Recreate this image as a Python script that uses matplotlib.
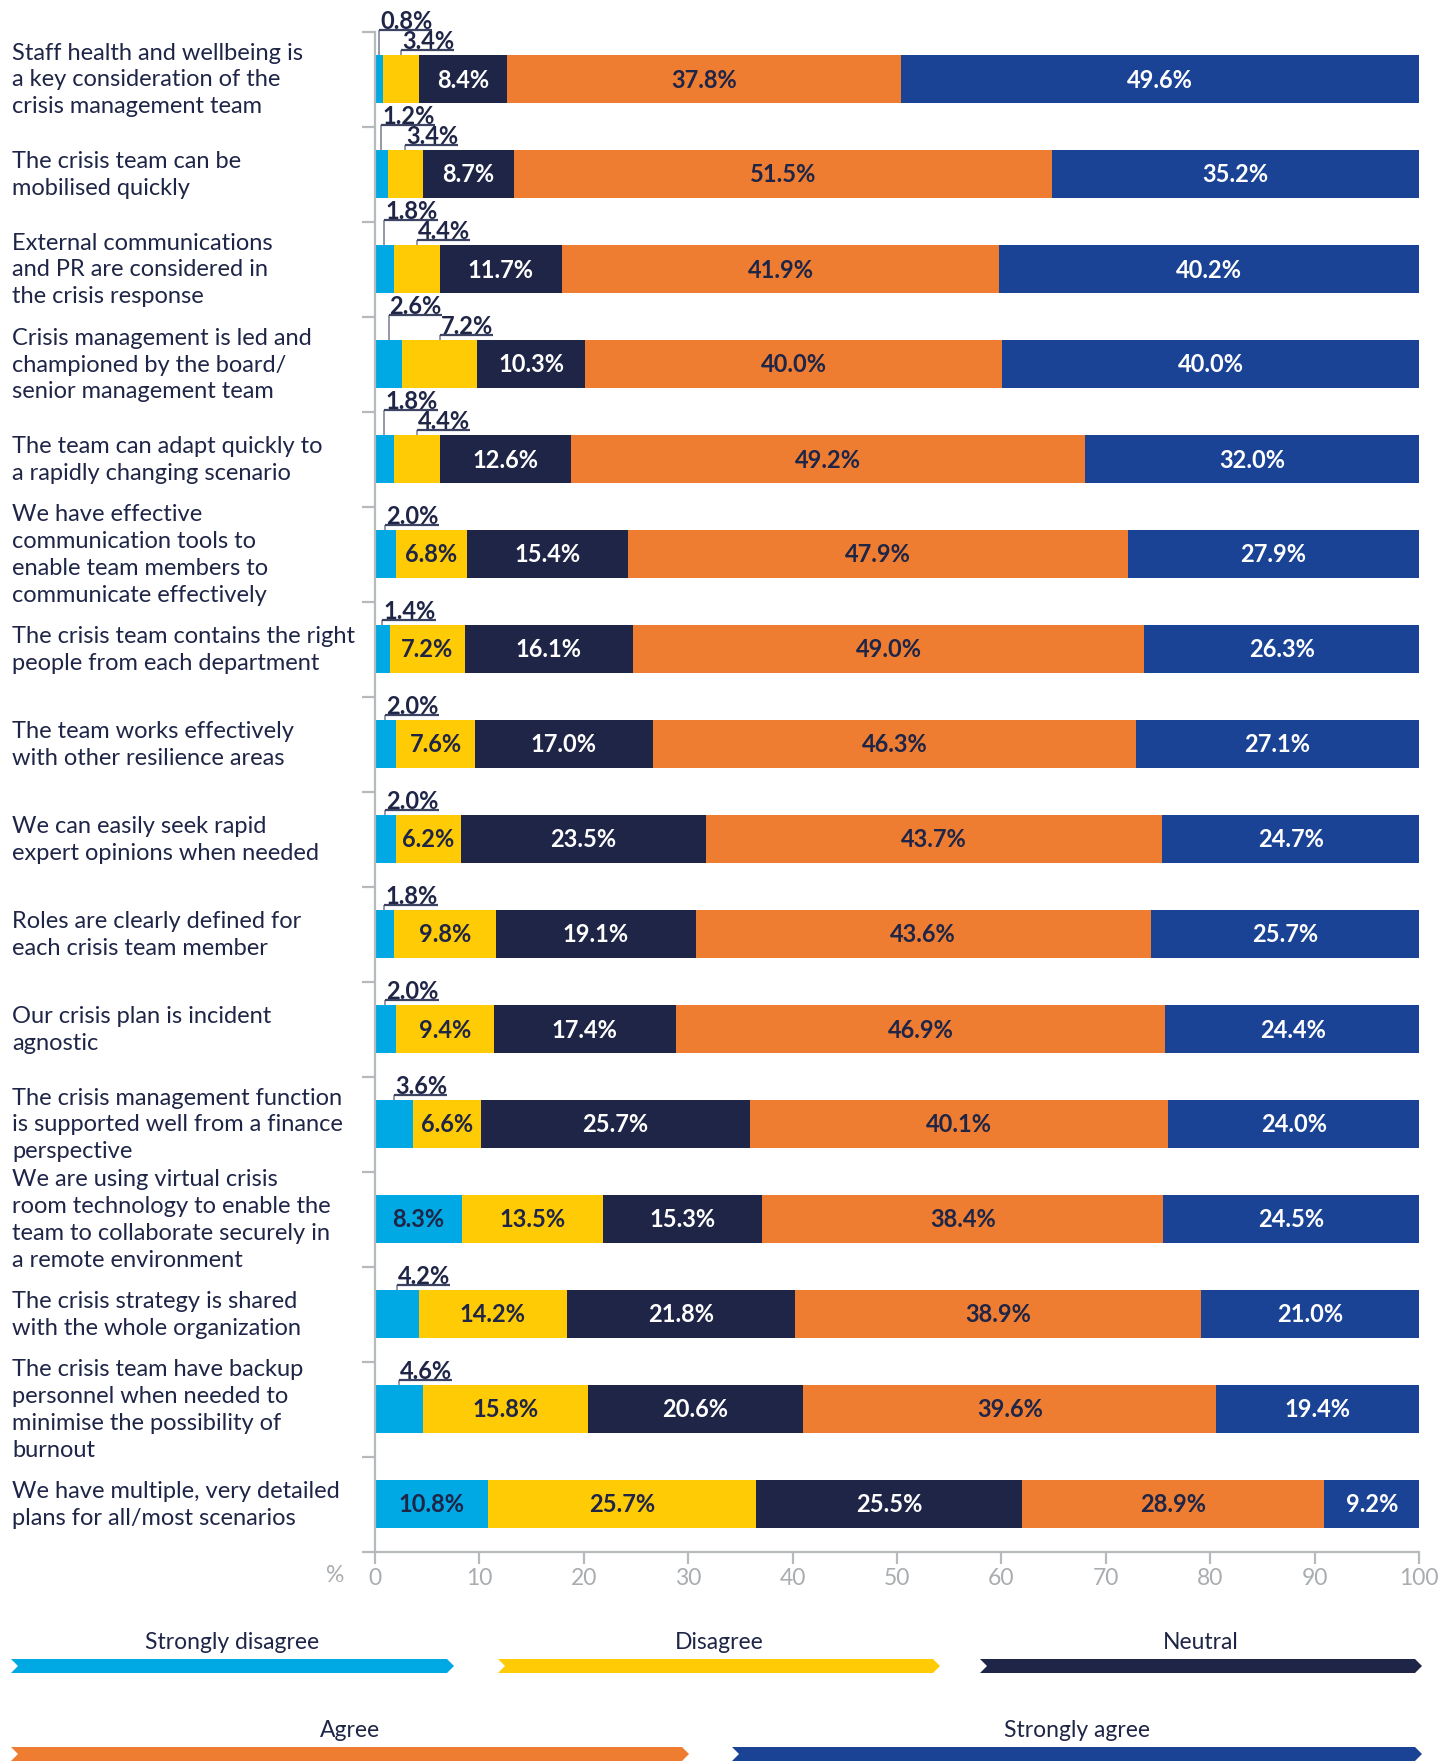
import matplotlib
matplotlib.use("Agg")
import matplotlib.pyplot as plt
import numpy as np
from matplotlib.patches import Polygon
from matplotlib.transforms import blended_transform_factory

plt.rcParams["font.family"] = ["Lato", "DejaVu Sans"]

# survey statements, top to bottom
statements = [
    "Staff health and wellbeing is\na key consideration of the\ncrisis management team",
    "The crisis team can be\nmobilised quickly",
    "External communications\nand PR are considered in\nthe crisis response",
    "Crisis management is led and\nchampioned by the board/\nsenior management team",
    "The team can adapt quickly to\na rapidly changing scenario",
    "We have effective\ncommunication tools to\nenable team members to\ncommunicate effectively",
    "The crisis team contains the right\npeople from each department",
    "The team works effectively\nwith other resilience areas",
    "We can easily seek rapid\nexpert opinions when needed",
    "Roles are clearly defined for\neach crisis team member",
    "Our crisis plan is incident\nagnostic",
    "The crisis management function\nis supported well from a finance\nperspective",
    "We are using virtual crisis\nroom technology to enable the\nteam to collaborate securely in\na remote environment",
    "The crisis strategy is shared\nwith the whole organization",
    "The crisis team have backup\npersonnel when needed to\nminimise the possibility of\nburnout",
    "We have multiple, very detailed\nplans for all/most scenarios",
]
strongly_disagree = [0.8, 1.2, 1.8, 2.6, 1.8, 2.0, 1.4, 2.0, 2.0, 1.8, 2.0, 3.6, 8.3, 4.2, 4.6, 10.8]
disagree = [3.4, 3.4, 4.4, 7.2, 4.4, 6.8, 7.2, 7.6, 6.2, 9.8, 9.4, 6.6, 13.5, 14.2, 15.8, 25.7]
neutral = [8.4, 8.7, 11.7, 10.3, 12.6, 15.4, 16.1, 17.0, 23.5, 19.1, 17.4, 25.7, 15.3, 21.8, 20.6, 25.5]
agree = [37.8, 51.5, 41.9, 40.0, 49.2, 47.9, 49.0, 46.3, 43.7, 43.6, 46.9, 40.1, 38.4, 38.9, 39.6, 28.9]
strongly_agree = [49.6, 35.2, 40.2, 40.0, 32.0, 27.9, 26.3, 27.1, 24.7, 25.7, 24.4, 24.0, 24.5, 21.0, 19.4, 9.2]
# how many of the leftmost segments get a label above the bar
n_callouts = [2, 2, 2, 2, 2, 1, 1, 1, 1, 1, 1, 1, 0, 1, 1, 0]

responses = ["Strongly disagree", "Disagree", "Neutral", "Agree", "Strongly agree"]
NAVY = "#1F2547"
colors = ["#00A8E4", "#FFCB05", NAVY, "#EF7D31", "#1A4396"]
text_colors = [NAVY, NAVY, "white", NAVY, "white"]
GREY = "#B6BABD"
TICK_GREY = "#A9ADB0"

W, H = 1439, 1765
fig = plt.figure(figsize=(W / 100, H / 100), dpi=100)

# legend drawn in pixel space on a background axes
lax = fig.add_axes([0, 0, 1, 1], zorder=0)
lax.set_xlim(0, W)
lax.set_ylim(H, 0)
lax.axis("off")

ax = fig.add_axes([375 / W, 1 - 1552.5 / H, 1044 / W, 1520 / H], zorder=1)
ax.patch.set_alpha(0)

data = np.array([strongly_disagree, disagree, neutral, agree, strongly_agree]).T
y = np.arange(len(statements))
bar_h = 0.505
left = np.zeros(len(statements))
for k in range(5):
    ax.barh(y, data[:, k], left=left, height=bar_h, color=colors[k], linewidth=0)
    left += data[:, k]

ax.set_xlim(0, 100)
ax.set_ylim(len(statements) - 0.5, -0.5)

for s in ["top", "right"]:
    ax.spines[s].set_visible(False)
for s in ["left", "bottom"]:
    ax.spines[s].set_color(GREY)
    ax.spines[s].set_linewidth(1.6)

ax.set_xticks(np.arange(0, 101, 10))
ax.tick_params(axis="x", direction="out", length=8.5, width=1.6, color=GREY,
               labelcolor=TICK_GREY, labelsize=16.5, pad=3)
ax.set_yticks(np.arange(-0.5, len(statements), 1.0))
ax.set_yticklabels([])
ax.tick_params(axis="y", direction="out", length=9.5, width=1.6, color=GREY)
fig.text(335 / W, 1 - 1576 / H, "%", color=TICK_GREY, fontsize=16.5,
         ha="center", va="center")

# statement labels, left aligned at the figure edge
trans = blended_transform_factory(fig.transFigure, ax.transData)
for i, st in enumerate(statements):
    ax.text(12 / W, i, st, transform=trans, ha="left", va="center", fontsize=17,
            color=NAVY, linespacing=1.34)

# value labels
px = 1 / 95.0
callouts = []
for i in range(len(statements)):
    start = 0.0
    for k in range(5):
        v = data[i, k]
        xc = start + v / 2
        lbl = f"{v:.1f}%"
        if k < n_callouts[i]:
            lvl = n_callouts[i] - k - 1
            y_top = i - bar_h / 2
            y_u = y_top - (5 + 20 * lvl) * px
            t = ax.text(xc + 0.1, y_u - 2.5 * px, lbl, ha="left", va="baseline",
                        fontsize=17, fontweight="bold", color=NAVY)
            callouts.append((t, xc, y_top, y_u))
        else:
            ax.text(xc, i, lbl, ha="center", va="center", fontsize=17,
                    fontweight="bold", color=text_colors[k])
        start += v

renderer = fig.canvas.get_renderer()
inv = ax.transData.inverted()
for t, xc, y_top, y_u in callouts:
    bb = t.get_window_extent(renderer=renderer)
    x_end = inv.transform((bb.x1, bb.y0))[0]
    ax.plot([xc, xc], [y_top, y_u], color="#8A8FA0", lw=1.3, solid_capstyle="butt", clip_on=False)
    ax.plot([xc, x_end], [y_u, y_u], color="#3C4363", lw=1.6, solid_capstyle="butt", clip_on=False)

# arrow-shaped legend bands
legend_rows = [
    [(11, 454), (498, 940), (980, 1422)],
    [(11, 689), (732, 1422)],
]
band_y = [1667, 1755]
text_y = [1643, 1731]
band_h = 14
d = 7
k = 0
for r, row in enumerate(legend_rows):
    for x0, x1 in row:
        yc = band_y[r]
        pts = [(x0, yc - band_h / 2), (x1 - d, yc - band_h / 2), (x1, yc),
               (x1 - d, yc + band_h / 2), (x0, yc + band_h / 2), (x0 + d, yc)]
        lax.add_patch(Polygon(pts, closed=True, facecolor=colors[k], edgecolor="none"))
        lax.text((x0 + x1) / 2, text_y[r], responses[k], ha="center", va="center",
                 fontsize=16.5, color=NAVY)
        k += 1

fig.savefig("out.png", dpi=100)
